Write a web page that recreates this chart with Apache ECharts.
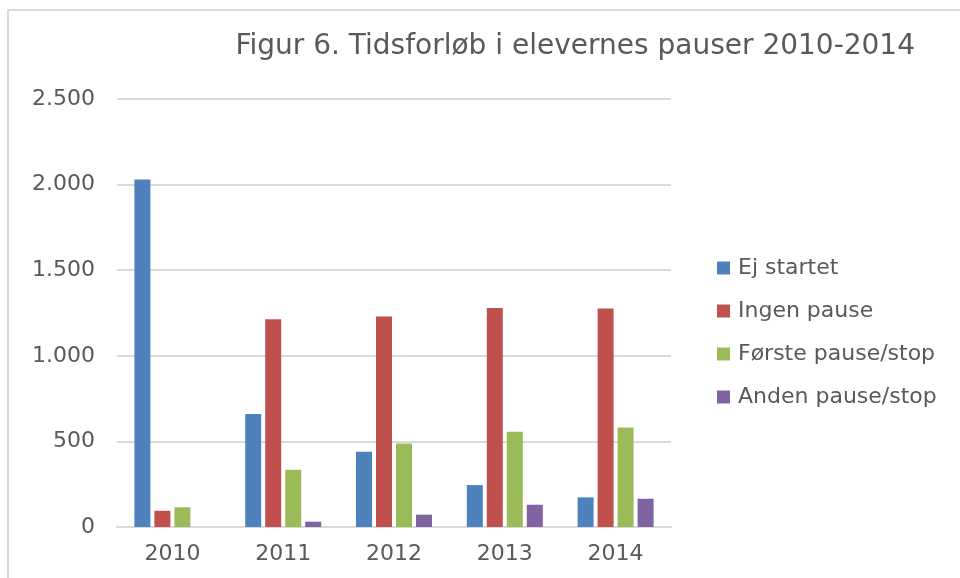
<!DOCTYPE html>
<html>
<head>
<meta charset="utf-8">
<script src="https://cdn.jsdelivr.net/npm/echarts@6/dist/echarts.min.js"></script>
<style>
  html, body { margin: 0; padding: 0; background: #fff; }
  #chart { width: 960px; height: 578px; }
</style>
</head>
<body>
<div id="chart"></div>
<script>
// data
var years = ['2010', '2011', '2012', '2013', '2014'];
var ejStartet = [2030, 660, 440, 245, 173];
var ingenPause = [95, 1213, 1230, 1279, 1277];
var forstePause = [115, 334, 488, 556, 581];
var andenPause = [0, 31, 72, 130, 165];
var yTicks = [0, 500, 1000, 1500, 2000, 2500];

var font = 'DejaVu Sans';
var grey = '#595959';

function bar(name, data, color) {
  return {
    name: name,
    type: 'bar',
    barWidth: 16,
    barGap: '25%',
    itemStyle: { color: color },
    data: data
  };
}

var myChart = echarts.init(document.getElementById('chart'));
var option = {
  animation: false,
  textStyle: { fontFamily: font },
  graphic: [{
    type: 'rect',
    shape: { x: 8, y: 10, width: 1100, height: 1100 },
    style: { fill: 'none', stroke: '#d9d9d9', lineWidth: 2 },
    z: -1
  }],
  title: {
    text: 'Figur 6. Tidsforløb i elevernes pauser 2010-2014',
    right: 40,
    top: 28,
    textStyle: { fontFamily: font, fontSize: 28, fontWeight: 'normal', color: grey }
  },
  grid: { left: 117, right: 289, top: 99, bottom: 51 },
  legend: {
    orient: 'vertical',
    left: 712,
    top: 252,
    itemWidth: 13,
    itemHeight: 13,
    itemGap: 21,
    icon: 'rect',
    textStyle: { fontFamily: font, fontSize: 22, color: grey, padding: [0, 0, 0, 3] },
    data: ['Ej startet', 'Ingen pause', 'Første pause/stop', 'Anden pause/stop']
  },
  xAxis: {
    type: 'category',
    data: years,
    axisLine: { lineStyle: { color: '#d9d9d9', width: 2 } },
    axisTick: { show: false },
    axisLabel: { color: grey, fontSize: 22, margin: 16 }
  },
  yAxis: {
    type: 'value',
    min: yTicks[0],
    max: yTicks[yTicks.length - 1],
    interval: 500,
    axisLine: { show: false },
    axisTick: { show: false },
    splitLine: { lineStyle: { color: '#d9d9d9', width: 2 } },
    axisLabel: {
      color: grey,
      fontSize: 22,
      margin: 22,
      formatter: function (v) { return String(v).replace(/\B(?=(\d{3})+(?!\d))/g, '.'); }
    }
  },
  series: [
    bar('Ej startet', ejStartet, '#4f81bd'),
    bar('Ingen pause', ingenPause, '#c0504d'),
    bar('Første pause/stop', forstePause, '#9bbb59'),
    bar('Anden pause/stop', andenPause, '#8064a2')
  ]
};
myChart.setOption(option);
</script>
</body>
</html>
